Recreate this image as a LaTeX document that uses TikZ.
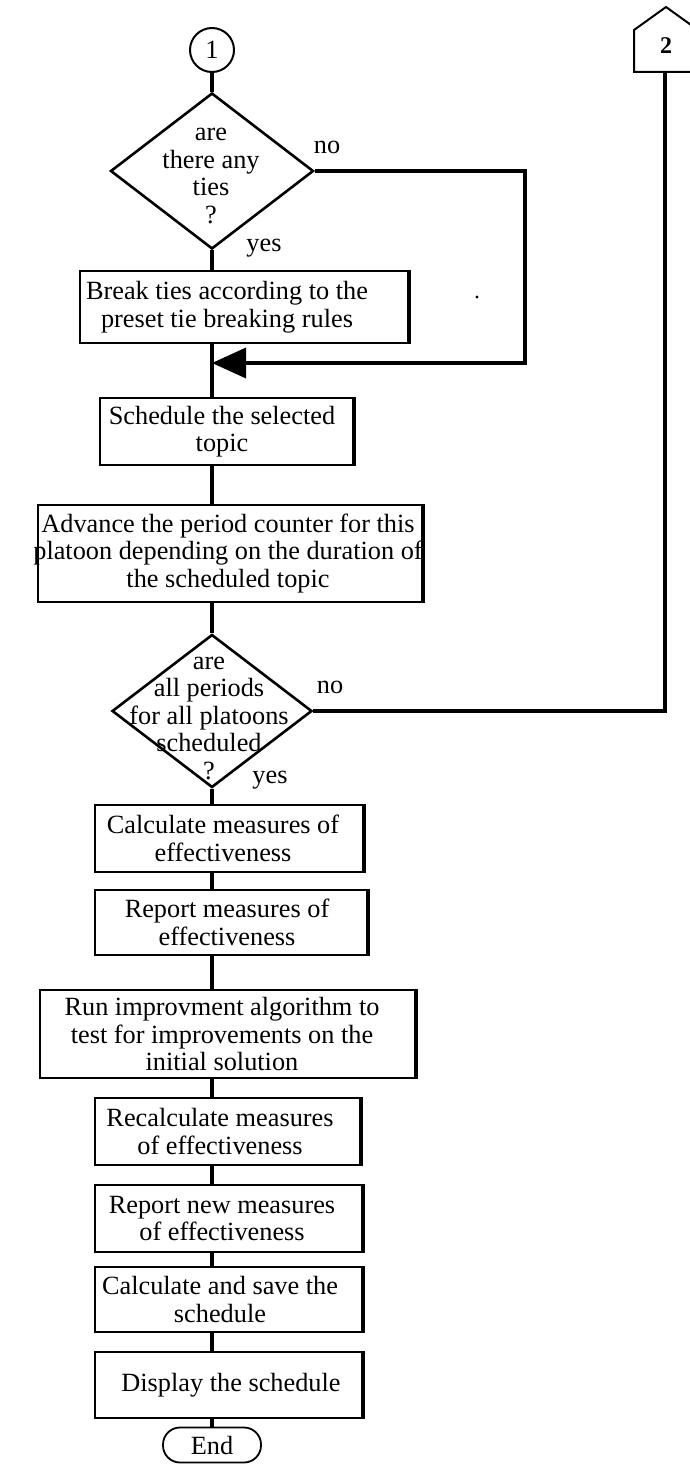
\documentclass[tikz,border=0pt]{standalone}
\usepackage{fontspec}
\setmainfont{Liberation Serif}
\usetikzlibrary{shapes.geometric,arrows.meta}
\begin{document}
\begin{tikzpicture}[x=1pt,y=-1pt,
  every node/.style={font=\fontsize{26.3}{27.5}\selectfont},
  box/.style={draw,line width=2.2pt,inner sep=0pt,
    append after command={(\tikzlastnode.north east) edge[line width=4pt] (\tikzlastnode.south east)}},
  txt/.style={align=center,inner sep=0pt},
  dia/.style={diamond,draw,line width=2.6pt,inner sep=0pt},
  conn/.style={line width=4.2pt},
  side/.style={line width=3.6pt},
  lbl/.style={inner sep=0pt}
]
\useasboundingbox (0,0) rectangle (690,1464);
\coordinate (sp) at (212,0);
% start connector 1
\node[circle,draw,line width=2pt,minimum size=44pt,inner sep=0pt] (c1) at (212,50) {1};
% decision 1
\node[dia,minimum width=203pt,minimum height=156pt] (d1) at (212,171) {};
\node[txt] (d1t) at (211,176) {are\\there any\\ties\\?};
\node[lbl] (no1) at (327,147) {no};
\node[lbl] (yes1) at (264,248) {yes};
% boxes
\node[box,minimum width=328pt,minimum height=72pt] (b1) at (244,307) {};
\node[txt] (b1t) at (227,307) {Break ties according to the\\preset tie breaking rules};
\node[box,minimum width=253pt,minimum height=67pt] (b2) at (226.5,431.5) {};
\node[txt] (b2t) at (222,431.5) {Schedule the selected\\topic};
\node[box,minimum width=384pt,minimum height=97pt] (b3) at (230,553.5) {};
\node[txt] (b3t) at (228,553.5) {Advance the period counter for this\\platoon depending on the duration of\\the scheduled topic};
% decision 2
\node[dia,minimum width=200pt,minimum height=153pt] (d2) at (212,711) {};
\node[txt] (d2t) at (209,718) {are\\all periods\\for all platoons\\scheduled\\?};
\node[lbl] (no2) at (330,687) {no};
\node[lbl] (yes2) at (270,780) {yes};
\node[box,minimum width=268pt,minimum height=67pt] (b4) at (229,838.5) {};
\node[txt] (b4t) at (223,838.5) {Calculate measures of\\effectiveness};
\node[box,minimum width=272pt,minimum height=65pt] (b5) at (231,922.5) {};
\node[txt] (b5t) at (227,922.5) {Report measures of\\effectiveness};
\node[box,minimum width=375pt,minimum height=88pt] (b6) at (227.5,1034) {};
\node[txt] (b6t) at (222,1034) {Run improvment algorithm to\\test for improvements on the\\initial solution};
\node[box,minimum width=265pt,minimum height=67pt] (b7) at (227.5,1131.5) {};
\node[txt] (b7t) at (220,1131.5) {Recalculate measures\\of effectiveness};
\node[box,minimum width=267pt,minimum height=67pt] (b8) at (228.5,1218.5) {};
\node[txt] (b8t) at (222,1218.5) {Report new measures\\of effectiveness};
\node[box,minimum width=267pt,minimum height=65pt] (b9) at (228.5,1299.5) {};
\node[txt] (b9t) at (220,1299.5) {Calculate and save the\\schedule};
\node[box,minimum width=267pt,minimum height=66pt] (b10) at (228.5,1385) {};
\node[txt] (b10t) at (231,1385) {Display the schedule};
\node[draw,rounded corners=17pt,line width=1.8pt,minimum width=98pt,minimum height=35pt,inner sep=0pt] (end) at (212,1445) {End};
% connector 2 (off-page)
\draw[line width=2pt] (634,72) -- (634,30) -- (666,7) -- (698,30) -- (698,72) -- cycle;
\node[lbl,font=\bfseries\fontsize{24}{24}\selectfont] (n2) at (666,46) {2};
\coordinate (p2) at (665,72);
% loop corner points
\coordinate (r1) at (525,171);
\coordinate (m1) at (212,363);
% stray dot
\fill (477,297) circle (1.6pt);
% connectors
\draw[conn] (c1.south) -- (d1.north);
\draw[conn] (d1.south) -- (sp |- b1.north);
\draw[conn] (sp |- b1.south) -- (sp |- b2.north);
\draw[side,-{Triangle[length=34pt,width=30pt]}] (d1.east) -- (r1) |- (m1);
\draw[conn] (sp |- b2.south) -- (sp |- b3.north);
\draw[conn] (sp |- b3.south) -- (d2.north);
\draw[side] (p2) |- (d2.east);
\draw[conn] (d2.south) -- (sp |- b4.north);
\draw[conn] (sp |- b4.south) -- (sp |- b5.north);
\draw[conn] (sp |- b5.south) -- (sp |- b6.north);
\draw[conn] (sp |- b6.south) -- (sp |- b7.north);
\draw[conn] (sp |- b7.south) -- (sp |- b8.north);
\draw[conn] (sp |- b8.south) -- (sp |- b9.north);
\draw[conn] (sp |- b9.south) -- (sp |- b10.north);
\draw[conn] (sp |- b10.south) -- (end.north);
\end{tikzpicture}
\end{document}
